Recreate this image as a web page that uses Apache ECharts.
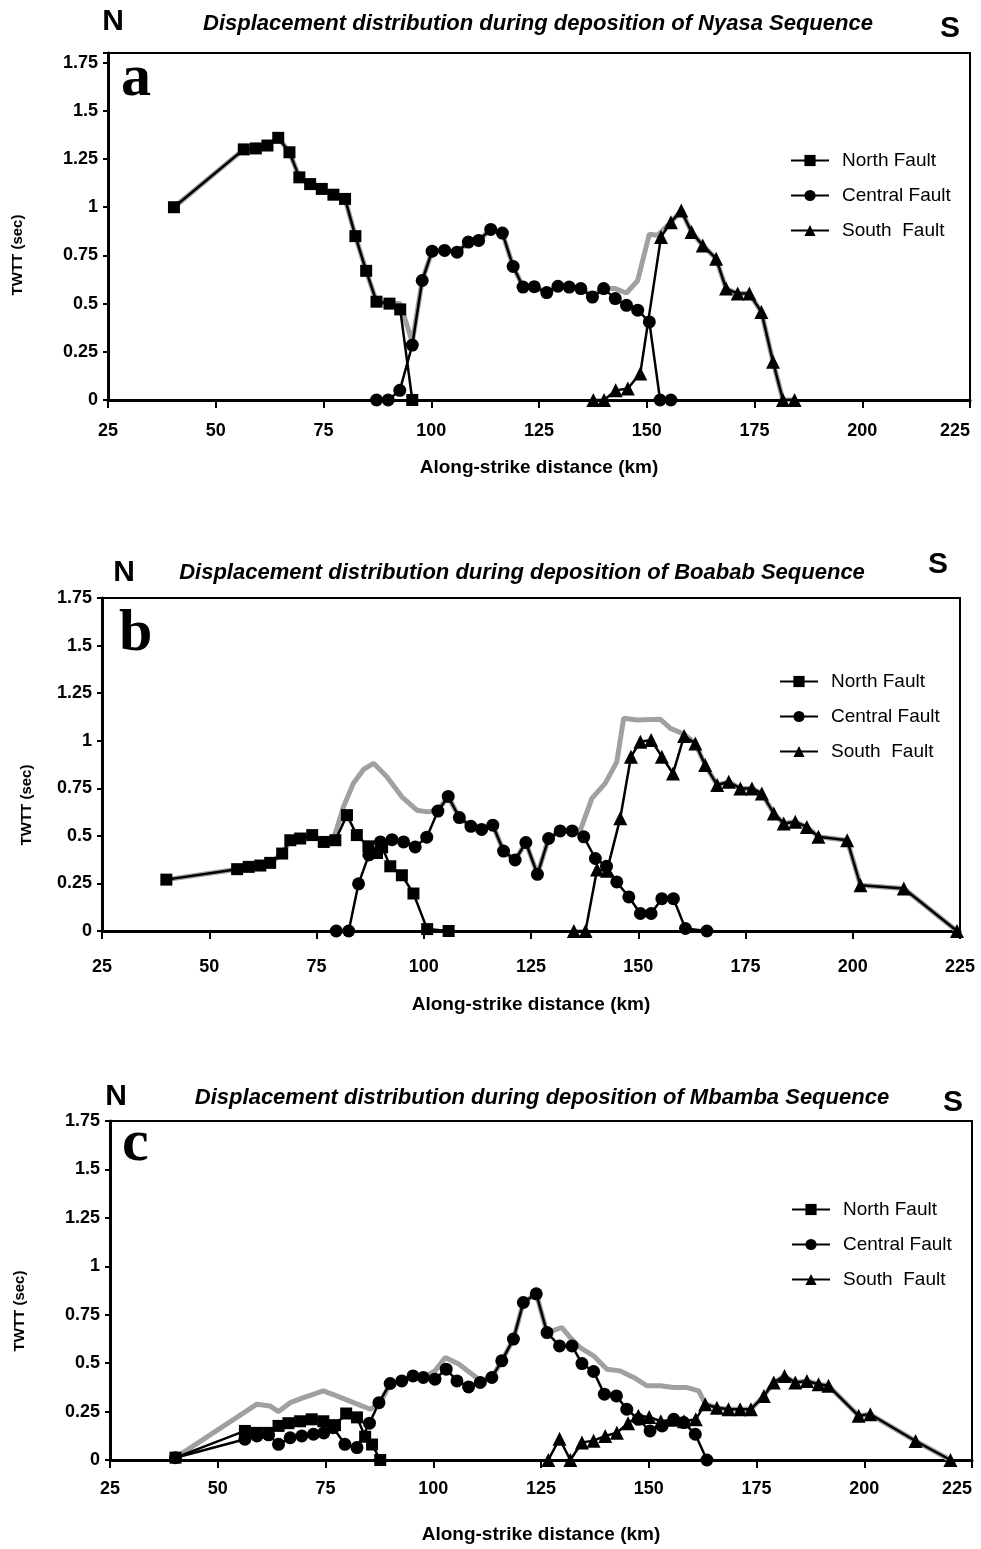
<!DOCTYPE html>
<html>
<head>
<meta charset="utf-8">
<title>Displacement distribution</title>
<script src="https://cdn.jsdelivr.net/npm/echarts@6/dist/echarts.min.js"></script>
<style>
  html, body { margin: 0; padding: 0; background: #fff; overflow: hidden; }
  #chart { width: 981px; height: 1549px; }
</style>
</head>
<body>
<div id="chart"></div>
<script>
// [km, TWTT sec]
const northA = [[40.3,1.0],[56.5,1.3],[59.3,1.305],[62,1.32],[64.5,1.36],[67.1,1.285],[69.4,1.155],[71.9,1.12],[74.6,1.095],[77.3,1.065],[80,1.043],[82.4,0.85],[84.9,0.67],[87.3,0.51],[90.3,0.5],[92.8,0.47],[95.6,0]]
const centralA = [[87.3,0],[90,0],[92.7,0.05],[95.6,0.285],[97.9,0.62],[100.2,0.772],[103.1,0.776],[106,0.767],[108.6,0.819],[111,0.828],[113.8,0.885],[116.5,0.866],[119,0.693],[121.3,0.586],[123.9,0.588],[126.8,0.557],[129.4,0.59],[132,0.586],[134.7,0.578],[137.4,0.534],[140,0.578],[142.7,0.526],[145.3,0.491],[147.9,0.466],[150.6,0.405],[153.1,0],[155.6,0]]
const southA = [[137.6,0],[140.1,0],[142.8,0.05],[145.6,0.06],[148.5,0.138],[153.3,0.845],[155.6,0.922],[158,0.983],[160.4,0.871],[163,0.802],[166.1,0.733],[168.4,0.578],[171.1,0.552],[173.8,0.552],[176.6,0.457],[179.3,0.198],[181.6,0],[184.3,0]]
const totalA = [[40.3,1.0],[56.5,1.3],[59.3,1.305],[62,1.32],[64.5,1.36],[67.1,1.285],[69.4,1.155],[71.9,1.12],[74.6,1.095],[77.3,1.065],[80,1.043],[82.4,0.85],[84.9,0.67],[87.3,0.51],[90.3,0.5],[92.8,0.5],[95.6,0.3],[97.9,0.62],[100.2,0.772],[103.1,0.776],[106,0.767],[108.6,0.819],[111,0.828],[113.8,0.885],[116.5,0.866],[119,0.693],[121.3,0.586],[123.9,0.588],[126.8,0.557],[129.4,0.59],[132,0.586],[134.7,0.578],[137.4,0.54],[140,0.578],[142.7,0.578],[145.3,0.555],[147.9,0.62],[150.6,0.86],[152.5,0.855],[155.6,0.922],[158,0.983],[160.4,0.871],[163,0.802],[166.1,0.733],[168.4,0.578],[171.1,0.552],[173.8,0.552],[176.6,0.457],[179.3,0.198],[181.6,0],[184.3,0]]

const northB = [[40,0.27],[56.5,0.325],[59.2,0.337],[61.9,0.344],[64.2,0.358],[67,0.407],[68.9,0.477],[71.2,0.486],[74,0.504],[76.7,0.468],[79.4,0.477],[82.1,0.609],[84.4,0.504],[87.1,0.445],[89.1,0.41],[90.3,0.44],[92.2,0.34],[94.9,0.293],[97.6,0.197],[100.8,0.01],[105.8,0]]
const centralB = [[79.6,0],[82.5,0],[84.8,0.248],[87.2,0.4],[89.9,0.468],[92.6,0.48],[95.3,0.468],[98,0.442],[100.7,0.493],[103.3,0.63],[105.7,0.707],[108.3,0.596],[111,0.55],[113.5,0.534],[116.1,0.556],[118.6,0.42],[121.3,0.373],[123.8,0.465],[126.5,0.298],[129.1,0.486],[131.8,0.526],[134.6,0.526],[137.3,0.495],[140,0.381],[142.6,0.34],[145,0.258],[147.8,0.179],[150.5,0.092],[153,0.092],[155.5,0.17],[158.2,0.17],[161,0.013],[166,0]]
const southB = [[135,0],[137.7,0],[140.4,0.323],[142.7,0.316],[145.8,0.592],[148.3,0.916],[150.5,0.995],[153,1.004],[155.5,0.916],[158.1,0.828],[160.7,1.025],[163.3,0.986],[165.6,0.872],[168.4,0.767],[171.1,0.784],[173.8,0.749],[176.5,0.749],[178.8,0.723],[181.6,0.618],[183.9,0.565],[186.6,0.574],[189.3,0.547],[192,0.495],[198.7,0.477],[201.8,0.24],[211.9,0.223],[224.3,0]]
const totalB = [[40,0.27],[56.5,0.325],[59.2,0.337],[61.9,0.344],[64.2,0.358],[67,0.407],[68.9,0.477],[71.2,0.486],[74,0.504],[76.7,0.468],[79.2,0.5],[81.3,0.653],[83.6,0.776],[86,0.85],[88.3,0.881],[91.4,0.811],[94.9,0.705],[98.4,0.635],[100.8,0.626],[103.2,0.632],[105.7,0.707],[108.3,0.596],[111,0.55],[113.5,0.534],[116.1,0.556],[118.6,0.42],[121.3,0.373],[123.8,0.465],[126.5,0.298],[129.1,0.486],[131.8,0.526],[134.6,0.526],[136.5,0.53],[139.2,0.697],[142.3,0.776],[145,0.889],[146.6,1.118],[149.7,1.109],[155.1,1.113],[157.5,1.065],[160.6,1.035],[163.3,0.986],[165.6,0.872],[168.4,0.767],[171.1,0.784],[173.8,0.749],[176.5,0.749],[178.8,0.723],[181.6,0.618],[183.9,0.565],[186.6,0.574],[189.3,0.547],[192,0.495],[198.7,0.477],[201.8,0.24],[211.9,0.223],[224.3,0]]

const northC = [[40.2,0.012],[56.3,0.15],[59,0.14],[61.7,0.14],[64.1,0.176],[66.4,0.19],[69.1,0.2],[71.8,0.21],[74.5,0.2],[77.2,0.18],[79.8,0.24],[82.3,0.22],[84.2,0.12],[85.8,0.08],[87.7,0]]
const centralC = [[40.2,0.012],[56.3,0.107],[59.1,0.124],[61.8,0.13],[64.1,0.081],[66.8,0.115],[69.5,0.124],[72.2,0.133],[74.6,0.14],[76.8,0.167],[79.5,0.081],[82.3,0.064],[85.2,0.19],[87.4,0.296],[90,0.395],[92.7,0.408],[95.3,0.434],[97.7,0.426],[100.4,0.417],[103,0.469],[105.5,0.408],[108.2,0.377],[110.9,0.4],[113.6,0.426],[115.9,0.512],[118.6,0.624],[120.9,0.813],[123.9,0.858],[126.4,0.658],[129.3,0.589],[132.2,0.589],[134.5,0.498],[137.2,0.457],[139.7,0.34],[142.5,0.331],[144.9,0.262],[147.6,0.21],[150.3,0.15],[153.1,0.176],[155.8,0.21],[158.1,0.193],[160.8,0.133],[163.5,0]]
const southC = [[126.7,0],[129.3,0.11],[131.8,0],[134.5,0.09],[137.2,0.1],[139.9,0.124],[142.6,0.141],[145.2,0.19],[147.6,0.228],[150.1,0.222],[152.8,0.2],[155.5,0.208],[158.2,0.2],[160.9,0.21],[163.1,0.288],[165.8,0.27],[168.5,0.262],[171.2,0.262],[173.7,0.262],[176.7,0.331],[179,0.4],[181.5,0.434],[184,0.4],[186.7,0.408],[189.4,0.391],[191.7,0.383],[198.7,0.228],[201.4,0.236],[211.9,0.098],[220,0]]
const totalC = [[40.2,0.012],[59.1,0.288],[62.1,0.279],[64.1,0.25],[66.8,0.296],[69.9,0.322],[74.5,0.357],[77.6,0.331],[81.5,0.296],[85.4,0.262],[87.7,0.296],[90,0.395],[92.7,0.408],[95.3,0.434],[97.7,0.426],[100.4,0.46],[102.8,0.529],[105.9,0.495],[109,0.443],[110.9,0.41],[113.6,0.426],[115.9,0.512],[118.6,0.624],[120.9,0.813],[123.9,0.858],[126.4,0.658],[129.8,0.684],[131.8,0.632],[134.1,0.58],[137.2,0.538],[140.3,0.469],[143.4,0.46],[146.5,0.426],[149.6,0.383],[152.7,0.383],[155.8,0.374],[158.9,0.374],[161.6,0.357],[163.1,0.29],[165.8,0.27],[168.5,0.262],[171.2,0.262],[173.7,0.262],[176.7,0.331],[179,0.4],[181.5,0.434],[184,0.4],[186.7,0.408],[189.4,0.391],[191.7,0.383],[198.7,0.228],[201.4,0.236],[211.9,0.098],[220,0]]

const faultNames = ['North Fault', 'Central Fault', 'South  Fault']
const titles = [
  'Displacement distribution during deposition of Nyasa Sequence',
  'Displacement distribution during deposition of Boabab Sequence',
  'Displacement distribution during deposition of Mbamba Sequence',
]
const letters = ['a', 'b', 'c']
const xTicks = [25, 225, 25] // min, max, interval
const yTickStep = 0.25

const data = [
  [northA, centralA, southA, totalA],
  [northB, centralB, southB, totalB],
  [northC, centralC, southC, totalC],
]

// layout of each panel (pixels)
const panels = [
  { left: 108, top: 53, width: 862, height: 347, yMax: 1.8, xMargin: 22, xGap: 58, lastAlign: 'right',
    yName: [18, 255], title: [538, 24], n: [113, 22], s: [950, 29], letter: [121, 49],
    legend: [790, 151] },
  { left: 102, top: 598, width: 858, height: 333, yMax: 1.75, xMargin: 27, xGap: 64, lastAlign: 'center',
    yName: [27, 805], title: [522, 573], n: [124, 573], s: [938, 565], letter: [119, 604],
    legend: [779, 672] },
  { left: 110, top: 1121, width: 862, height: 339, yMax: 1.75, xMargin: 20, xGap: 65, lastAlign: 'right',
    yName: [20, 1311], title: [542, 1098], n: [116, 1097], s: [953, 1103], letter: [122, 1114],
    legend: [791, 1200] },
]

const narrow = "'Liberation Sans Narrow', 'Liberation Sans', Arial, sans-serif"
const sans = "'Liberation Sans', Arial, sans-serif"
const symbols = ['rect', 'circle', 'triangle']
const symbolSizes = [12, 13, 14]

const option = { animation: false, grid: [], xAxis: [], yAxis: [], legend: [], series: [], graphic: [] }

panels.forEach((p, i) => {
  option.grid.push({
    left: p.left, top: p.top, width: p.width, height: p.height,
    containLabel: false, outerBoundsMode: 'none',
    show: true, borderColor: '#000', borderWidth: 2,
  })
  option.xAxis.push({
    type: 'value', gridIndex: i, min: xTicks[0], max: xTicks[1], interval: xTicks[2],
    axisLine: { onZero: false, lineStyle: { color: '#000', width: 3 } },
    axisTick: { length: 8, lineStyle: { color: '#000', width: 2 } },
    axisLabel: { margin: p.xMargin, color: '#000', fontSize: 18, fontWeight: 'bold', fontFamily: narrow,
      hideOverlap: false, alignMaxLabel: p.lastAlign },
    splitLine: { show: false },
    name: 'Along-strike distance (km)', nameLocation: 'middle', nameGap: p.xGap,
    nameTextStyle: { color: '#000', fontSize: 19, fontWeight: 'bold', fontFamily: sans },
  })
  option.yAxis.push({
    type: 'value', gridIndex: i, min: 0, max: p.yMax, interval: yTickStep,
    axisLine: { show: true, lineStyle: { color: '#000', width: 3 } },
    axisTick: { show: true, length: 5, lineStyle: { color: '#000', width: 2 } },
    axisLabel: {
      margin: 10, color: '#000', fontSize: 18, fontWeight: 'bold', fontFamily: narrow,
      formatter: v => (v > 1.76 ? '' : String(v)),
    },
    splitLine: { show: false },
  })

  const [north, central, south, total] = data[i]
  option.series.push({
    name: 'Total', type: 'line', xAxisIndex: i, yAxisIndex: i, data: total,
    symbol: 'none', z: 1, silent: true,
    lineStyle: { color: '#a0a0a0', width: 5 },
  })
  ;[north, central, south].forEach((d, k) => {
    option.series.push({
      name: faultNames[k], type: 'line', xAxisIndex: i, yAxisIndex: i, data: d,
      symbol: symbols[k], symbolSize: symbolSizes[k], z: 3,
      itemStyle: { color: '#000' },
      lineStyle: { color: '#000', width: 2.5 },
    })
  })

  option.legend.push({
    data: faultNames, orient: 'vertical', left: p.legend[0], top: p.legend[1],
    padding: 0, itemWidth: 38, itemHeight: 14, itemGap: 16, selectedMode: false,
    textStyle: { color: '#000', fontSize: 19, fontFamily: sans, padding: [0, 0, 0, 8] },
  })

  option.graphic.push(
    { type: 'text', x: p.title[0], y: p.title[1],
      style: { text: titles[i], fill: '#000', align: 'center', verticalAlign: 'middle',
        font: `italic bold 22px ${sans}` } },
    { type: 'text', x: p.n[0], y: p.n[1],
      style: { text: 'N', fill: '#000', align: 'center', verticalAlign: 'middle',
        font: `bold 30px ${narrow}` } },
    { type: 'text', x: p.s[0], y: p.s[1],
      style: { text: 'S', fill: '#000', align: 'center', verticalAlign: 'middle',
        font: `bold 30px ${narrow}` } },
    { type: 'text', x: p.letter[0], y: p.letter[1],
      style: { text: letters[i], fill: '#000', align: 'left', verticalAlign: 'top',
        font: `bold 60px 'Liberation Serif', 'Times New Roman', serif` } },
    { type: 'text', x: p.yName[0], y: p.yName[1], rotation: Math.PI / 2,
      style: { text: 'TWTT (sec)', fill: '#000', align: 'center', verticalAlign: 'middle',
        font: `bold 15px ${sans}` } },
  )
})

const chart = echarts.init(document.getElementById('chart'))
chart.setOption(option)
window.addEventListener('resize', () => chart.resize())
</script>
</body>
</html>
